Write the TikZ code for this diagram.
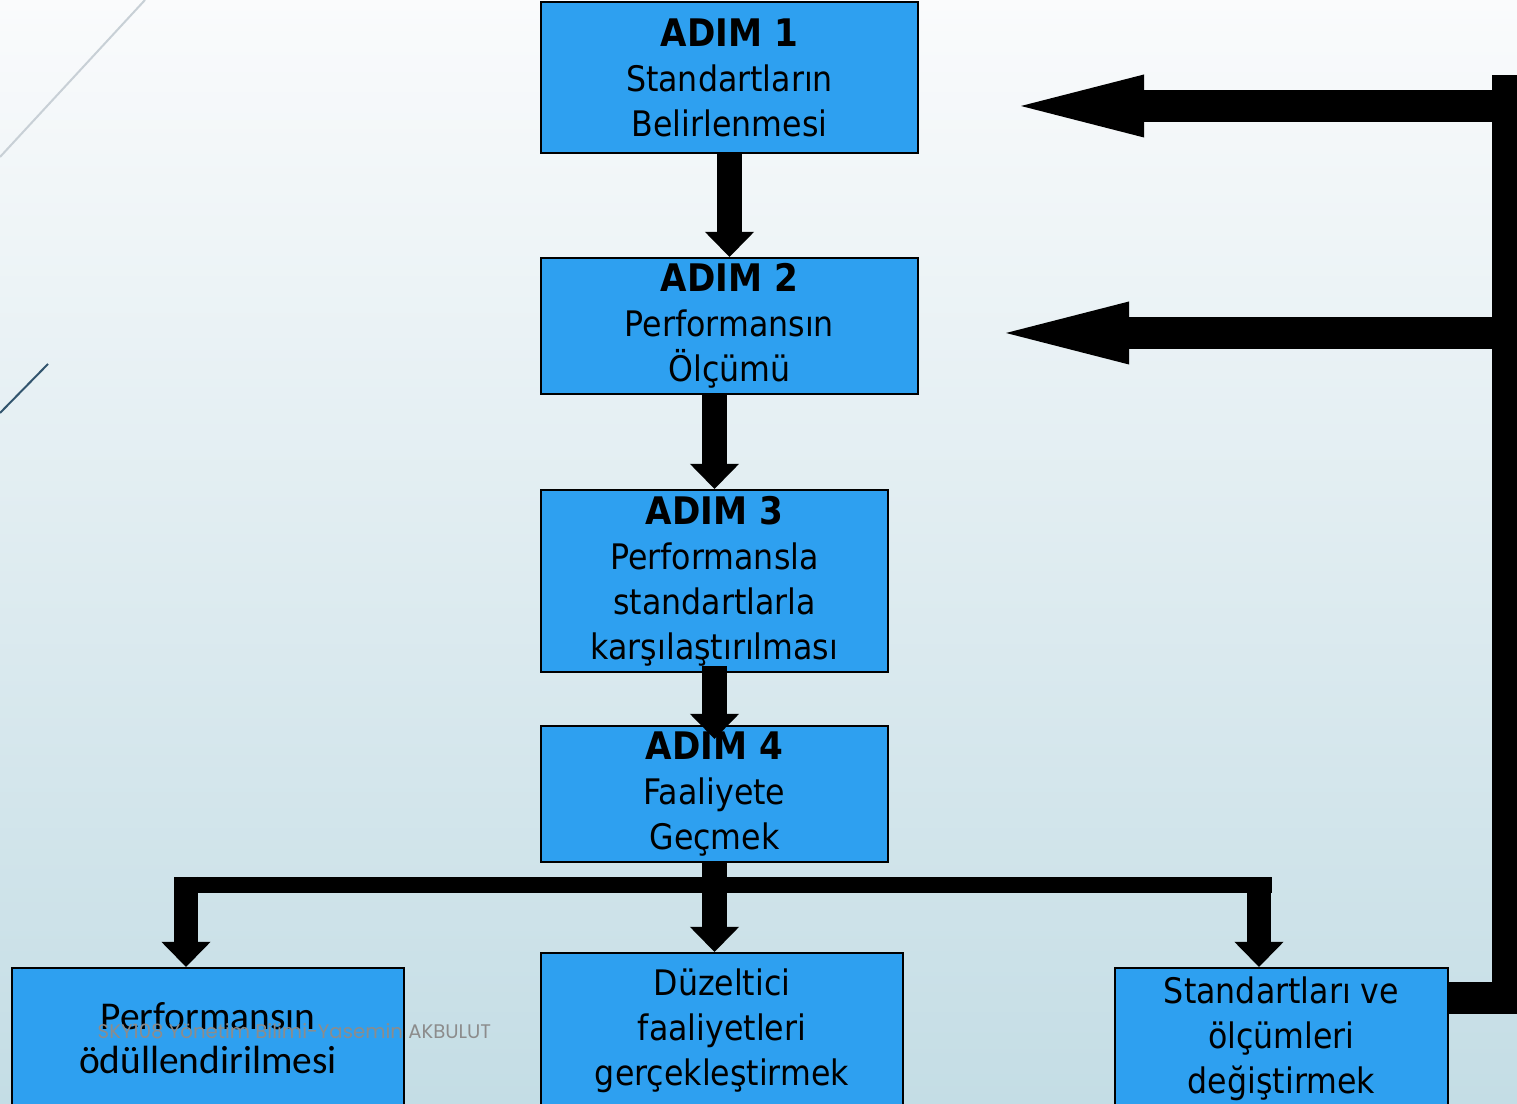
\documentclass[tikz,border=0pt]{standalone}
\usepackage{fontspec}
\setmainfont{DejaVu Sans}[FakeStretch=0.9]
\newfontfamily\calfont{Carlito}
\newfontfamily\wmfont{Poppins}
\usetikzlibrary{arrows.meta, positioning, calc}

\definecolor{boxblue}{RGB}{46,160,240}
\definecolor{bgtop}{RGB}{250,251,252}
\definecolor{bgmid}{RGB}{224,235,240}
\definecolor{bgbot}{RGB}{196,221,229}
\definecolor{lineA}{RGB}{200,208,214}
\definecolor{lineB}{RGB}{50,85,110}
\definecolor{wmgray}{RGB}{140,140,140}

\newcommand{\adim}[1]{{\bfseries\fontsize{10.8}{12.8}\selectfont #1}}

\tikzset{
  stepbox/.style={draw=black, line width=0.02cm, fill=boxblue, align=center,
    inner sep=0pt, font=\fontsize{10}{12.8}\selectfont},
  downarrow/.style={line width=0.24cm,
    -{Triangle[width=0.49cm, length=0.25cm, line width=0pt]}},
  backarrow/.style={line width=0.32cm,
    -{Triangle[width=0.63cm, length=1.23cm, line width=0pt]}},
  splitbar/.style={line width=0.16cm},
  fbline/.style={line width=0.32cm, line join=miter},
}

\begin{document}
\begin{tikzpicture}[x=0.01cm, y=-0.01cm]
  \useasboundingbox (0,0) rectangle (1517,1104);
  % background
  \shade[top color=bgtop, middle color=bgmid, bottom color=bgbot] (0,0) rectangle (1517,1104);
  \draw[lineA, line width=0.02cm] (145,0) -- (0,157);
  \draw[lineB, line width=0.02cm] (48,364) -- (0,413);

  % Steps
  \node[stepbox, minimum width=3.77cm, minimum height=1.51cm] (s1) at (729.5,77.5)
    {\adim{ADIM 1}\\Standartların\\Belirlenmesi};
  \node[stepbox, minimum width=3.77cm, minimum height=1.36cm] (s2) at (729.5,326)
    {\adim{ADIM 2}\\Performansın\\Ölçümü};
  \node[stepbox, minimum width=3.47cm, minimum height=1.82cm] (s3) at (714.5,581)
    {\adim{ADIM 3}\\Performansla\\standartlarla\\karşılaştırılması};
  \node[stepbox, minimum width=3.47cm, minimum height=1.36cm] (s4) at (714.5,794)
    {\adim{ADIM 4}\\Faaliyete\\Geçmek};
  % Outcomes
  \node[stepbox, font=\calfont\fontsize{11.2}{12.5}\selectfont,
    minimum width=3.92cm, minimum height=1.40cm] (s5) at (208,1038)
    {Performansın\\ödüllendirilmesi};
  \node[stepbox, minimum width=3.62cm, minimum height=1.56cm] (s6) at (722,1031)
    {Düzeltici\\faaliyetleri\\gerçekleştirmek};
  \node[stepbox, minimum width=3.33cm, minimum height=1.42cm] (s7) at (1281.5,1039)
    {Standartları ve\\ölçümleri\\değiştirmek};

  % Main flow
  \draw[downarrow] (s1.south) -- (s2.north);
  \draw[downarrow] (s2.south -| s3.north) -- (s3.north);
  \draw[downarrow] ([yshift=0.07cm]s3.south) -- ([yshift=-0.14cm]s4.north);
  \draw[downarrow] (s4.south) -- (s4.south |- s6.north);

  % Split to the three outcomes
  \coordinate (barL) at (174,885);
  \coordinate (barR) at (1272,885);
  \coordinate (brL) at (186,877);
  \coordinate (brR) at (1259,877);
  \draw[splitbar] (barL) -- (barR);
  \draw[downarrow] (brL) -- (brL |- s5.north);
  \draw[downarrow] (brR) -- (brR |- s7.north);

  % Feedback loop
  \coordinate (fbtop) at (1508,75);
  \coordinate (fb1) at (1021,106);
  \coordinate (fb2) at (1006,333);
  \draw[fbline] ([yshift=0.41cm]s7.east) -| (fbtop);
  \draw[backarrow] (fbtop |- fb1) -- (fb1);
  \draw[backarrow] (fbtop |- fb2) -- (fb2);

  % watermark
  \node[font=\wmfont\fontsize{5.6}{6}\selectfont, text=wmgray, anchor=west,
    inner sep=0pt] (wm) at (97,1031) {SKY108 Yönetim Bilimi-Yasemin AKBULUT};
\end{tikzpicture}
\end{document}
